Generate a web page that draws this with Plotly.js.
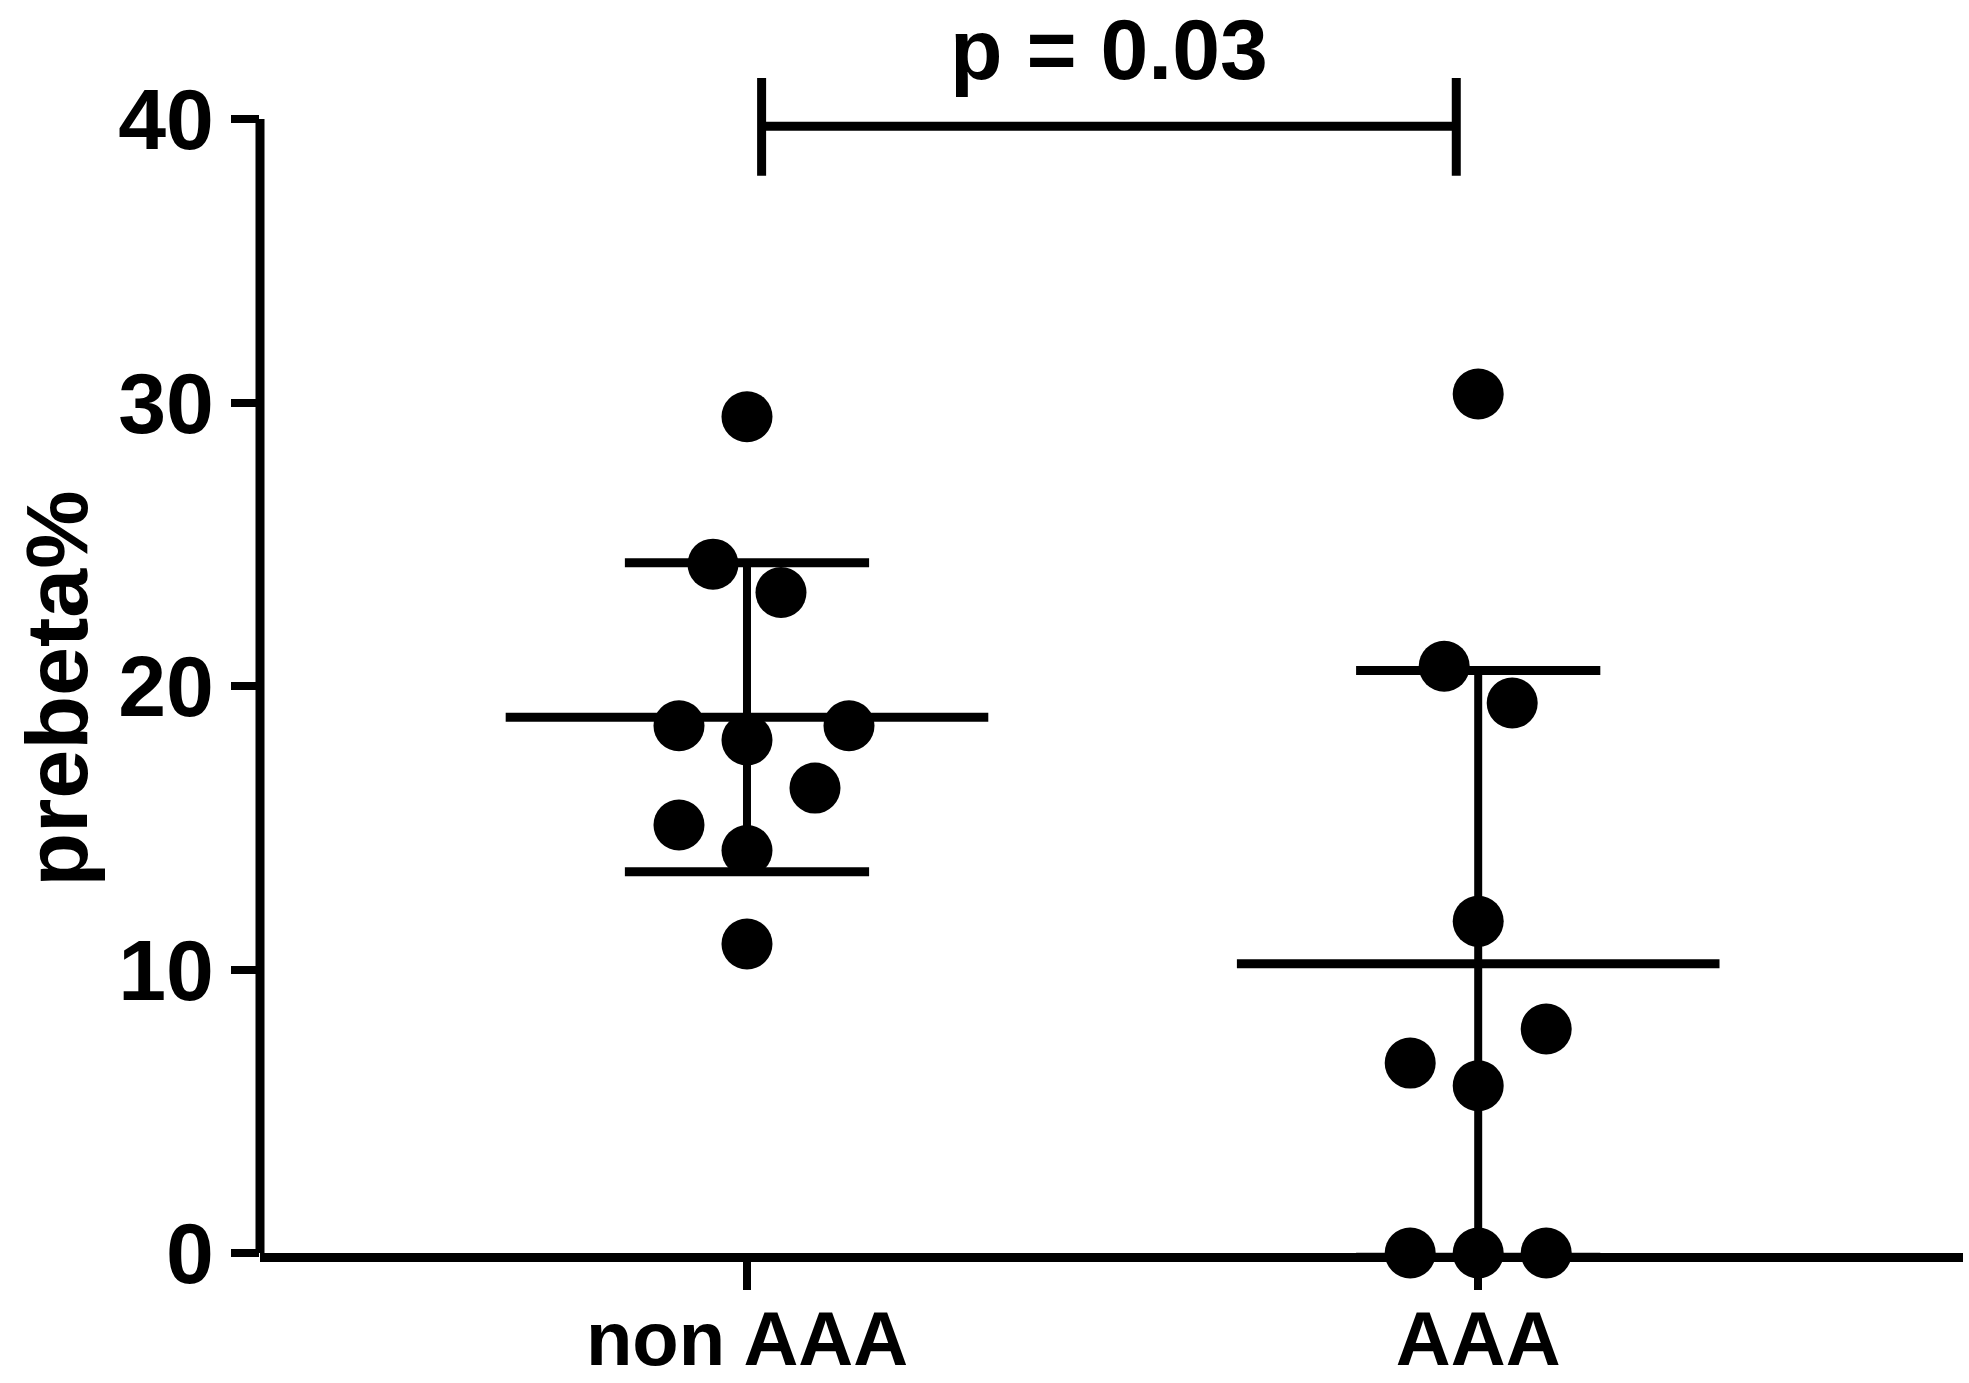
<!DOCTYPE html>
<html>
<head>
<meta charset="utf-8">
<script src="https://cdn.plot.ly/plotly-3.0.1.min.js"></script>
<style>html,body{margin:0;padding:0;background:#fff;}#chart{width:1969px;height:1383px;}</style>
</head>
<body>
<div id="chart"></div>
<script>
// ---- data ----
const categories = ['non AAA', 'AAA'];
const nonAAAValues = [29.5, 24.3, 23.3, 18.6, 18.6, 18.1, 16.4, 15.1, 14.2, 10.9];
const nonAAAJitter = [0, -1, 1, -2, 3, 0, 2, -2, 0, 0];
const AAAValues = [30.3, 20.7, 19.4, 11.7, 7.9, 6.7, 5.9, 0, 0, 0];
const AAAJitter = [0, -1, 1, 0, 2, -2, 0, -2, 0, 2];
const centerValues = [18.9, 10.2];
const spreadValues = [5.45, 10.35];
const yTicks = [0, 10, 20, 30, 40];
const pText = 'p = 0.03';
const yTitle = 'prebeta%';

// ---- styling ----
const FONT = 'Liberation Sans, Arial, Helvetica, sans-serif';
const step = 0.0465;
const meanHalf = 0.33;
const capHalf = 0.167;

const groups = [nonAAAValues, AAAValues];
const jitters = [nonAAAJitter, AAAJitter];

const traces = groups.map((vals, g) => ({
  type: 'scatter',
  mode: 'markers',
  x: vals.map((v, i) => g + jitters[g][i] * step),
  y: vals,
  cliponaxis: false,
  marker: {color: '#000', size: 51, line: {width: 0}},
  hoverinfo: 'skip',
  showlegend: false
}));

const shapes = [];
const L = (x0, y0, x1, y1, w, extra) => Object.assign({
  type: 'line', xref: 'x', yref: 'y', x0, y0, x1, y1,
  line: {color: '#000', width: w}, layer: 'below'
}, extra || {});

centerValues.forEach((m, g) => {
  const s = spreadValues[g];
  shapes.push(L(g - meanHalf, m, g + meanHalf, m, 9));
  shapes.push(L(g, m - s, g, m + s, 8));
  shapes.push(L(g - capHalf, m + s, g + capHalf, m + s, 9));
  shapes.push(L(g - capHalf, m - s, g + capHalf, m - s, 9));
});

// y axis line from 0 to top tick
shapes.push({type: 'line', xref: 'x domain', yref: 'y', x0: 0, x1: 0,
  y0: 0, y1: yTicks[yTicks.length - 1], line: {color: '#000', width: 9}, layer: 'below'});

// significance bracket
const bL = 0 + 0.02, bR = 1 - 0.03, bY = 39.75, bTop = 41.45, bBot = 38.0;
shapes.push(L(bL, bY, bR, bY, 9, {layer: 'above'}));
shapes.push(L(bL, bBot, bL, bTop, 9, {layer: 'above'}));
shapes.push(L(bR, bBot, bR, bTop, 9, {layer: 'above'}));

const layout = {
  width: 1969, height: 1383,
  margin: {l: 260, r: 6, t: 74, b: 130, pad: 0},
  paper_bgcolor: '#fff', plot_bgcolor: '#fff',
  showlegend: false,
  xaxis: {
    range: [-0.666, 1.663],
    tickvals: [0, 1], ticktext: categories,
    showgrid: false, zeroline: false,
    showline: true, linecolor: '#000', linewidth: 9,
    ticks: 'outside', ticklen: 28, tickwidth: 8, tickcolor: '#000',
    ticklabelstandoff: -16,
    tickfont: {family: FONT, size: 76, color: '#000', weight: 'bold'},
    layer: 'below traces', fixedrange: true
  },
  yaxis: {
    range: [0, 41.59],
    tickvals: yTicks, ticktext: yTicks.map(String),
    showgrid: false, zeroline: false, showline: false,
    ticks: 'outside', ticklen: 28, tickwidth: 8, tickcolor: '#000',
    tickfont: {family: FONT, size: 86, color: '#000', weight: 'bold'},
    layer: 'below traces', fixedrange: true
  },
  shapes: shapes,
  annotations: [
    {text: pText, xref: 'x', yref: 'paper', x: (bL + bR) / 2, y: 1.0625,
     xanchor: 'center', yanchor: 'top', showarrow: false, borderpad: 0,
     font: {family: FONT, size: 86, color: '#000', weight: 'bold'}},
    {text: yTitle, xref: 'paper', yref: 'paper', x: -0.1195, y: 0.479,
     xanchor: 'center', yanchor: 'middle', showarrow: false, textangle: -90,
     borderpad: 0,
     font: {family: FONT, size: 88, color: '#000', weight: 'bold'}}
  ]
};

Plotly.newPlot('chart', traces, layout, {staticPlot: true, displayModeBar: false});
</script>
</body>
</html>
